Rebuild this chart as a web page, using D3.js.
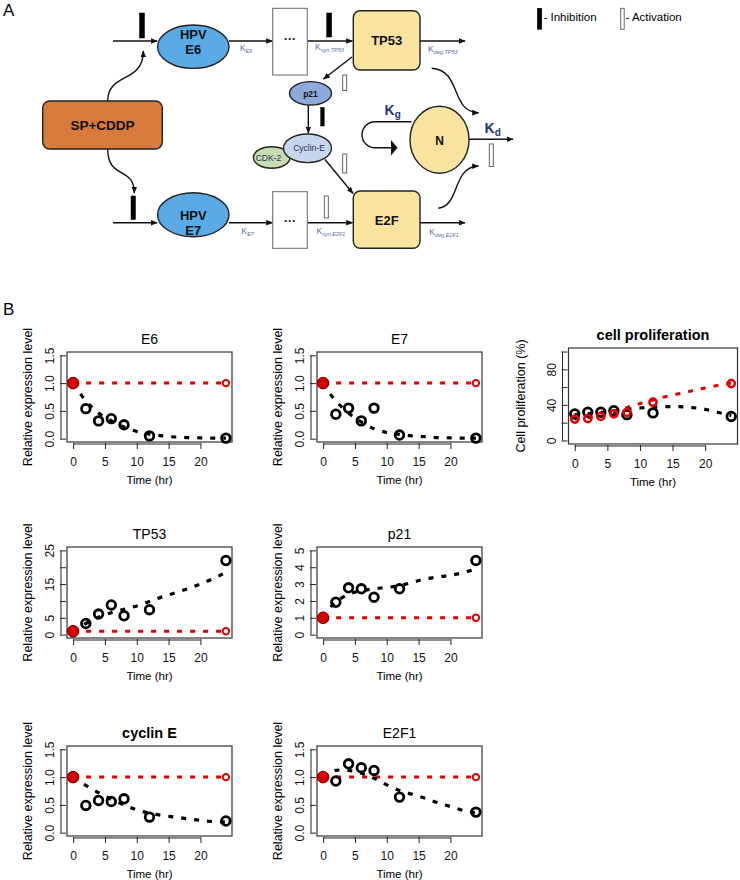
<!DOCTYPE html>
<html>
<head>
<meta charset="utf-8">
<script src="https://cdn.jsdelivr.net/npm/d3@7"></script>
<style>
body { margin: 0; background: #fff; }
svg { display: block; font-family: "Liberation Sans", Arial, sans-serif; }
</style>
</head>
<body>
<div id="chart"></div>
<script>
/* Data */
const obsTimes = [0, 2, 4, 6, 8, 12, 24]
const modelTimes = [0, 1, 2, 3, 4, 6, 8, 10, 12, 14, 16, 18, 20, 22, 24]
const ctrlTimes = [0, 24]
const ctrlLevel = [1, 1]
const xTicks = [0, 5, 10, 15, 20]

const e6Obs = [1, 0.54, 0.32, 0.36, 0.25, 0.05, 0.01]
const e6Model = [1, 0.83, 0.68, 0.56, 0.46, 0.32, 0.21, 0.13, 0.08, 0.05, 0.03, 0.02, 0.015, 0.01, 0.01]

const e7Obs = [1, 0.44, 0.55, 0.32, 0.55, 0.065, 0.01]
const e7Model = [1, 0.82, 0.68, 0.56, 0.46, 0.3, 0.18, 0.11, 0.075, 0.05, 0.035, 0.02, 0.015, 0.01, 0.01]

const prolifObs = [29.8, 31.7, 31.7, 33.5, 29, 31, 27]
const prolifModel = [29, 29.5, 30, 31, 31.5, 33, 35, 36.5, 37.5, 38, 38, 37, 35, 31.5, 28]
const prolifCtrlObs = [24, 24.5, 27, 30, 31.5, 43, 64]
const prolifCtrlModel = [24, 24.8, 25.6, 26.5, 27.5, 31, 37, 41.5, 45.5, 49.5, 52.5, 56, 59, 62, 64.5]

const tp53Obs = [1, 3.3, 6.1, 8.8, 5.6, 7.4, 22]
const tp53Model = [1, 2.2, 3.3, 4.3, 5.2, 6.5, 7.5, 8.5, 9.8, 11.2, 12.4, 13.6, 15, 16.6, 18.5]

const p21Obs = [1, 1.92, 2.78, 2.72, 2.22, 2.72, 4.4]
const p21Model = [1, 1.55, 1.95, 2.2, 2.4, 2.6, 2.72, 2.8, 2.9, 3.1, 3.3, 3.42, 3.52, 3.68, 3.9]

const cycEObs = [1, 0.49, 0.58, 0.56, 0.61, 0.28, 0.21]
const cycEModel = [1, 0.92, 0.85, 0.78, 0.72, 0.6, 0.5, 0.41, 0.35, 0.31, 0.28, 0.25, 0.22, 0.2, 0.19]

const e2f1Obs = [1, 0.93, 1.24, 1.17, 1.12, 0.64, 0.37]
const e2f1Model = [1, 1.07, 1.12, 1.13, 1.12, 1.07, 0.98, 0.86, 0.76, 0.69, 0.62, 0.54, 0.47, 0.4, 0.35]

const exprTicks = [0, 0.5, 1, 1.5]
const exprTickLabels = ['0.0', '0.5', '1.0', '1.5']
const tp53Ticks = [0, 5, 10, 15, 20, 25]
const tp53TickLabels = ['0', '5', '', '15', '', '25']
const p21Ticks = [0, 1, 2, 3, 4, 5]
const p21TickLabels = ['0', '1', '2', '3', '4', '5']
const prolifTicks = [0, 20, 40, 60, 80, 100]
const prolifTickLabels = ['0', '', '40', '', '80', '']

/* Canvas */
const W = 740, H = 880
const svg = d3.select('#chart').append('svg')
	.attr('width', W)
	.attr('height', H)

const RED = '#e00000'

/* ---------- Panel B: time-course plots ---------- */
const panels = [
	{ title: 'E6', obs: e6Obs, model: e6Model, yTicks: exprTicks, yLabels: exprTickLabels, box: [67, 352, 232, 442] },
	{ title: 'E7', obs: e7Obs, model: e7Model, yTicks: exprTicks, yLabels: exprTickLabels, box: [317, 352, 482, 442] },
	{ title: 'cell proliferation', bold: true, obs: prolifObs, model: prolifModel, ctrlObs: prolifCtrlObs, ctrlModel: prolifCtrlModel,
		yTicks: prolifTicks, yLabels: prolifTickLabels, box: [568.5, 348, 737.5, 444], ylab: 'Cell proliferation (%)', ylabOff: 44 },
	{ title: 'TP53', obs: tp53Obs, model: tp53Model, yTicks: tp53Ticks, yLabels: tp53TickLabels, box: [67, 547, 232, 638] },
	{ title: 'p21', obs: p21Obs, model: p21Model, yTicks: p21Ticks, yLabels: p21TickLabels, box: [317, 547, 482, 638] },
	{ title: 'cyclin E', bold: true, obs: cycEObs, model: cycEModel, yTicks: exprTicks, yLabels: exprTickLabels, box: [67, 746, 232, 836] },
	{ title: 'E2F1', obs: e2f1Obs, model: e2f1Model, yTicks: exprTicks, yLabels: exprTickLabels, box: [317, 746, 482, 836] },
]

panels.forEach(p => drawPanel(p))

function drawPanel(p) {
	const [x0, y0, x1, y1] = p.box
	const yMax = d3.max(p.yTicks)
	const xScale = d3.scaleLinear().domain([-0.96, 24.96]).range([x0, x1])
	const yScale = d3.scaleLinear().domain([-0.04 * yMax, 1.04 * yMax]).range([y1, y0])
	const g = svg.append('g')

	// box
	g.append('rect')
		.attr('x', x0).attr('y', y0)
		.attr('width', x1 - x0).attr('height', y1 - y0)
		.attr('fill', 'none').attr('stroke', '#333').attr('stroke-width', 1.2)

	// y axis (R style: offset line, outward ticks)
	const yAxis = d3.axisLeft(yScale)
		.tickValues(p.yTicks)
		.tickSize(6)
		.tickFormat((d, i) => p.yLabels[i])
	const $y = g.append('g')
		.attr('transform', `translate(${x0 - 1}, 0)`)
		.call(yAxis)
	$y.select('.domain').attr('d', `M-5,${yScale(p.yTicks[0])}V${yScale(yMax)}`).attr('stroke', '#222')
	$y.selectAll('.tick line').attr('stroke', '#222')
	// rotated labels, read bottom to top
	$y.selectAll('.tick text')
		.attr('font-size', 12)
		.attr('font-family', 'Liberation Sans, Arial, sans-serif')
		.attr('fill', '#111')
		.attr('text-anchor', 'middle')
		.attr('transform', 'rotate(-90)')
		.attr('x', 0).attr('y', -12)
		.attr('dy', 0)

	// x axis
	const xAxis = d3.axisBottom(xScale)
		.tickValues(xTicks)
		.tickSize(6)
		.tickPadding(8)
	const $x = g.append('g')
		.attr('transform', `translate(0, ${y1 + 1})`)
		.call(xAxis)
	$x.select('.domain').attr('d', `M${xScale(0)},1H${xScale(20)}`).attr('stroke', '#222')
	$x.selectAll('.tick line').attr('stroke', '#222')
	$x.selectAll('.tick text')
		.attr('font-size', 12)
		.attr('font-family', 'Liberation Sans, Arial, sans-serif')
		.attr('fill', '#111')

	// labels
	g.append('text')
		.attr('x', (x0 + x1) / 2).attr('y', y0 - 8)
		.attr('text-anchor', 'middle')
		.attr('font-size', p.bold ? 14.5 : 14)
		.attr('font-weight', p.bold ? 'bold' : 'normal')
		.text(p.title)

	g.append('text')
		.attr('x', (x0 + x1) / 2).attr('y', y1 + 42)
		.attr('text-anchor', 'middle')
		.attr('font-size', 11.5)
		.text('Time (hr)')

	g.append('text')
		.attr('transform', `translate(${x0 - (p.ylabOff || 35)}, ${(y0 + y1) / 2}) rotate(-90)`)
		.attr('text-anchor', 'middle')
		.attr('font-size', 12.5)
		.text(p.ylab || 'Relative expression level')

	const line = d3.line()
		.x(d => xScale(d[0]))
		.y(d => yScale(d[1]))
		.curve(d3.curveMonotoneX)

	// control (red) line
	const ctrlModelPts = p.ctrlModel ? d3.zip(modelTimes, p.ctrlModel) : d3.zip(ctrlTimes, ctrlLevel)
	g.append('path')
		.attr('d', line(ctrlModelPts))
		.attr('fill', 'none').attr('stroke', RED)
		.attr('stroke-width', 3).attr('stroke-dasharray', '5,8')

	// treated model (black) line
	g.append('path')
		.attr('d', line(d3.zip(modelTimes, p.model)))
		.attr('fill', 'none').attr('stroke', '#000')
		.attr('stroke-width', 3.2).attr('stroke-dasharray', '5,8')

	// observed points
	g.selectAll('circle.obs')
		.data(d3.zip(obsTimes, p.obs))
		.enter().append('circle')
		.attr('class', 'obs')
		.attr('cx', d => xScale(d[0]))
		.attr('cy', d => yScale(d[1]))
		.attr('r', 4.3)
		.attr('fill', 'none').attr('stroke', '#000').attr('stroke-width', 2.8)

	if (p.ctrlObs) {
		g.selectAll('circle.ctrl')
			.data(d3.zip(obsTimes, p.ctrlObs))
			.enter().append('circle')
			.attr('class', 'ctrl')
			.attr('cx', d => xScale(d[0]))
			.attr('cy', d => yScale(d[1]))
			.attr('r', 3.6)
			.attr('fill', 'none').attr('stroke', RED).attr('stroke-width', 2.5)
	} else {
		const ctrlPts = d3.zip(ctrlTimes, ctrlLevel)
		// t = 0: filled red, t = 24: small open red
		g.append('circle')
			.attr('cx', xScale(ctrlPts[0][0])).attr('cy', yScale(ctrlPts[0][1]))
			.attr('r', 5.8)
			.attr('fill', '#d40000').attr('stroke', '#7a0000').attr('stroke-width', 1)
		g.append('circle')
			.attr('cx', xScale(ctrlPts[1][0])).attr('cy', yScale(ctrlPts[1][1]))
			.attr('r', 3.2)
			.attr('fill', '#fff').attr('stroke', RED).attr('stroke-width', 2)
	}
}

/* ---------- Panel A: network diagram ---------- */
const defs = svg.append('defs')
defs.append('marker')
	.attr('id', 'arrow')
	.attr('viewBox', '0 0 10 10')
	.attr('refX', 9).attr('refY', 5)
	.attr('markerUnits', 'userSpaceOnUse')
	.attr('markerWidth', 7).attr('markerHeight', 7)
	.attr('orient', 'auto')
	.append('path')
	.attr('d', 'M0,1 L10,5 L0,9 Z')
	.attr('fill', '#111')

const $dia = svg.append('g')

function arrow(d) {
	$dia.append('path')
		.attr('d', d)
		.attr('fill', 'none')
		.attr('stroke', '#111')
		.attr('stroke-width', 1.4)
		.attr('marker-end', 'url(#arrow)')
}

function bar(x, y, w, h, inhibit) {
	$dia.append('rect')
		.attr('x', x).attr('y', y).attr('width', w).attr('height', h)
		.attr('fill', inhibit ? '#000' : '#fff')
		.attr('stroke', inhibit ? '#000' : '#555')
		.attr('stroke-width', inhibit ? 0.5 : 0.9)
}

function kLabel(x, y, sub) {
	const t = $dia.append('text')
		.attr('x', x).attr('y', y)
		.attr('font-size', 8.5).attr('fill', '#5a6cab')
	t.append('tspan').text('K')
	t.append('tspan').attr('font-size', 5.5).attr('font-style', 'italic').attr('dy', 2).text(sub)
}

function boldLabel(x, y, main, sub) {
	const t = $dia.append('text')
		.attr('x', x).attr('y', y)
		.attr('font-size', 14).attr('font-weight', 'bold').attr('fill', '#1f3672')
	t.append('tspan').text(main)
	t.append('tspan').attr('font-size', 10).attr('dy', 3).text(sub)
}

function node(shape, attrs, fill, stroke) {
	const el = $dia.append(shape)
	Object.entries(attrs).forEach(([k, v]) => el.attr(k, v))
	el.attr('fill', fill).attr('stroke', stroke || '#222').attr('stroke-width', stroke ? 1 : 1.4)
}

function label(x, y, txt, size, color) {
	$dia.append('text')
		.attr('x', x).attr('y', y)
		.attr('text-anchor', 'middle')
		.attr('font-size', size).attr('font-weight', 'bold')
		.attr('fill', color || '#111')
		.text(txt)
}

// panel letters
svg.append('text').attr('x', 3).attr('y', 16).attr('font-size', 17).text('A')
svg.append('text').attr('x', 3).attr('y', 315).attr('font-size', 17).text('B')

// straight arrows, top row
arrow('M113,41 H157')
arrow('M229,41 H272.5')
arrow('M307.3,41 H352.5')
arrow('M420,41 H465')
// bottom row
arrow('M113,222.7 H157')
arrow('M229,222.7 H272.5')
arrow('M307.3,222.7 H352.5')
arrow('M420,222.7 H465')

// drug curves
arrow('M107.7,101 C107.7,72 143.3,84 143.3,51')
arrow('M107.7,149 C107.7,180 134.3,166 134.3,193')

// TP53 -> p21 -> Cyclin-E -> E2F
arrow('M352,57 L323.5,79')
arrow('M308.3,105 V133')
arrow('M325,159.5 L353,193.5')

// TP53 / E2F -> Kd
arrow('M431.7,68.3 C462,70 450,112 478.5,112.8')
arrow('M438.3,208.3 C460,206 452,167 478.5,166')

// N out
arrow('M469,139.3 H513')

// self loop with big head
$dia.append('path')
	.attr('d', 'M411.5,121.7 H375 A13,13 0 0 0 375,147.7 H392')
	.attr('fill', 'none').attr('stroke', '#111').attr('stroke-width', 1.4)
$dia.append('path')
	.attr('d', 'M391,140 L397.5,147.7 L391,155.5 Z')
	.attr('fill', '#111')

// inhibition / activation bars
bar(139.5, 13, 5, 25, true)
bar(326.7, 13, 5, 24, true)
bar(131, 196, 4.5, 23.5, true)
bar(324.3, 196, 4, 22, false)
bar(342.7, 75, 4, 15.5, false)
bar(320.7, 107.5, 3.5, 18.5, true)
bar(342.7, 154, 4, 19, false)
bar(489.3, 144, 4, 22.5, false)

// nodes
node('rect', { x: 42.7, y: 101, width: 119.6, height: 48, rx: 7 }, '#d87a3a')
label(102.5, 130, 'SP+CDDP', 13.5)

node('ellipse', { cx: 193.3, cy: 46.7, rx: 35.7, ry: 21.7 }, '#5aaae6')
label(193.3, 38.5, 'HPV', 13)
label(193.3, 53.5, 'E6', 13)
node('ellipse', { cx: 193.3, cy: 214.7, rx: 35.7, ry: 22 }, '#5aaae6')
label(193.3, 219.5, 'HPV', 13)
label(193.3, 234.5, 'E7', 13)

node('rect', { x: 272.7, y: 8.3, width: 34.6, height: 66.7 }, '#fff', '#666')
label(290, 43, '···', 12)
node('rect', { x: 272.7, y: 191.7, width: 34.6, height: 56.6 }, '#fff', '#666')
label(290, 225, '···', 12)

node('rect', { x: 353.3, y: 10.7, width: 66.7, height: 59.3, rx: 7 }, '#f9e3a1')
label(386.7, 45, 'TP53', 13)
node('rect', { x: 353.3, y: 191, width: 66.7, height: 57.3, rx: 7 }, '#f9e3a1')
label(386.7, 225, 'E2F', 13)

node('ellipse', { cx: 310.5, cy: 93.3, rx: 21, ry: 11.7 }, '#8eaadc')
label(310.5, 96.5, 'p21', 8.5)

node('ellipse', { cx: 271.7, cy: 157.5, rx: 18.3, ry: 10.8 }, '#c5ddb0')
$dia.append('text').attr('x', 268.5).attr('y', 160.5).attr('text-anchor', 'middle')
	.attr('font-size', 8.5).attr('fill', '#1f2f5a').text('CDK-2')
node('ellipse', { cx: 307.5, cy: 148.3, rx: 24, ry: 14.3 }, '#c6d6ef')
$dia.append('text').attr('x', 309).attr('y', 151).attr('text-anchor', 'middle')
	.attr('font-size', 8.5).attr('fill', '#1f2f5a').text('Cyclin-E')

node('ellipse', { cx: 439.5, cy: 139.7, rx: 29.5, ry: 33.5 }, '#f9e3a1')
label(439.5, 144.5, 'N', 12)

// rate labels
kLabel(240, 51, 'E6')
kLabel(315, 50, 'syn,TP53')
kLabel(428, 52, 'deg,TP53')
kLabel(241.5, 234, 'E7')
kLabel(316.5, 234, 'syn,E2F1')
kLabel(429.3, 235, 'deg,E2F1')
boldLabel(384.5, 115, 'K', 'g')
boldLabel(484.5, 133, 'K', 'd')

// legend
bar(537.3, 8.3, 4.5, 21, true)
$dia.append('text').attr('x', 543.5).attr('y', 21).attr('font-size', 11.5).text('- Inhibition')
bar(620.7, 8.3, 3.5, 21, false)
$dia.append('text').attr('x', 625.5).attr('y', 21).attr('font-size', 11.5).text('- Activation')
</script>
</body>
</html>
